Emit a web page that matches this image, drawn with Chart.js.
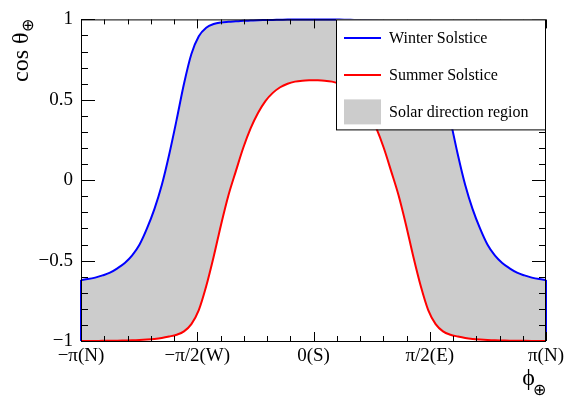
<!DOCTYPE html>
<html>
<head>
<meta charset="utf-8">
<script src="https://cdn.jsdelivr.net/npm/chart.js@4.4.1/dist/chart.umd.min.js"></script>
<style>
  html, body { margin: 0; padding: 0; background: #fff; }
  #wrap { width: 567px; height: 396px; }
</style>
</head>
<body>
<div id="wrap"><canvas id="solarChart" width="567" height="396"></canvas></div>
<script>
// azimuth phi (rad) and cos(theta)
const PHI = [-3.1416, -3.05, -2.95, -2.85, -2.75, -2.65, -2.55, -2.45, -2.35, -2.25, -2.15, -2.05,
  -1.95, -1.85, -1.75, -1.65, -1.55, -1.45, -1.35, -1.25, -1.15, -1.05, -0.95, -0.85, -0.75,
  -0.65, -0.55, -0.45, -0.35, -0.25, -0.15, -0.05, 0,
  0.05, 0.15, 0.25, 0.35, 0.45, 0.55, 0.65, 0.75, 0.85, 0.95, 1.05, 1.15, 1.25, 1.35, 1.45,
  1.55, 1.65, 1.75, 1.85, 1.95, 2.05, 2.15, 2.25, 2.35, 2.45, 2.55, 2.65, 2.75, 2.85, 2.95, 3.05, 3.1416];
const WINTER = [-0.620, -0.615, -0.606, -0.592, -0.575, -0.548, -0.515, -0.468, -0.400, -0.300, -0.180, -0.030,
  0.160, 0.375, 0.600, 0.785, 0.895, 0.948, 0.971, 0.981, 0.985, 0.988, 0.991, 0.993, 0.995,
  0.996, 0.997, 0.998, 0.999, 0.9995, 1.0, 1.0, 1.0,
  1.0, 1.0, 0.9995, 0.999, 0.998, 0.997, 0.996, 0.995, 0.993, 0.991, 0.988, 0.985, 0.981, 0.971, 0.948,
  0.895, 0.785, 0.600, 0.375, 0.160, -0.030, -0.180, -0.300, -0.400, -0.468, -0.515, -0.548, -0.575, -0.592, -0.606, -0.615, -0.620];
const SUMMER = [-1.0, -1.0, -0.9995, -0.999, -0.9985, -0.998, -0.997, -0.996, -0.994, -0.991, -0.987, -0.981,
  -0.972, -0.961, -0.940, -0.895, -0.808, -0.660, -0.478, -0.278, -0.095, 0.055, 0.200, 0.322, 0.418,
  0.492, 0.543, 0.578, 0.600, 0.613, 0.619, 0.6215, 0.622,
  0.6215, 0.619, 0.613, 0.600, 0.578, 0.543, 0.492, 0.418, 0.322, 0.200, 0.055, -0.095, -0.278, -0.478, -0.660,
  -0.808, -0.895, -0.940, -0.961, -0.972, -0.981, -0.987, -0.991, -0.994, -0.996, -0.997, -0.998, -0.9985, -0.999, -0.9995, -1.0, -1.0];

const X_TICKS = [-Math.PI, -Math.PI / 2, 0, Math.PI / 2, Math.PI];
const X_LABELS = ['\u2212\u03c0(N)', '\u2212\u03c0/2(W)', '0(S)', '\u03c0/2(E)', '\u03c0(N)'];
const Y_TICKS = [-1, -0.5, 0, 0.5, 1];
const Y_LABELS = ['\u22121', '\u22120.5', '0', '0.5', '1'];
const SERIES_NAMES = ['Winter Solstice', 'Summer Solstice', 'Solar direction region'];

const FONT = '"Liberation Serif", "Times New Roman", serif';
const BLUE = '#0000ff';
const RED = '#ff0000';
const GREY = '#cccccc';

const toPoints = (ys) => PHI.map((p, i) => ({ x: p, y: ys[i] }));
const last = PHI.length - 1;

// ROOT-style frame: ticks inside on all four sides, axis titles with subscripts, legend box
const frameTicks = {
  id: 'frameTicks',
  afterDraw(chart) {
    const { ctx, chartArea: a, scales: { x, y } } = chart;
    ctx.save();
    ctx.strokeStyle = '#000';
    ctx.lineWidth = 1;
    ctx.strokeRect(a.left + 0.5, a.top + 0.5, a.right - a.left - 1, a.bottom - a.top);

    ctx.beginPath();
    for (let k = 0; k <= 20; k++) {
      const v = -Math.PI + k * Math.PI / 10;
      const px = Math.round(x.getPixelForValue(v)) + 0.5;
      const len = k % 5 === 0 ? 9 : 5;
      ctx.moveTo(px, a.bottom); ctx.lineTo(px, a.bottom - len);
      ctx.moveTo(px, a.top); ctx.lineTo(px, a.top + len);
    }
    for (let k = 0; k <= 20; k++) {
      const v = -1 + k * 0.1;
      const py = Math.round(y.getPixelForValue(v)) + 0.5;
      const len = k % 5 === 0 ? 14 : 7;
      ctx.moveTo(a.left, py); ctx.lineTo(a.left + len, py);
      ctx.moveTo(a.right, py); ctx.lineTo(a.right - len, py);
    }
    ctx.stroke();

    // axis titles
    ctx.fillStyle = '#000';
    ctx.textBaseline = 'alphabetic';
    ctx.save();
    ctx.translate(28, a.top);
    ctx.rotate(-Math.PI / 2);
    ctx.font = '16px ' + FONT;
    ctx.textAlign = 'right';
    const subW = ctx.measureText('\u2295').width;
    ctx.fillText('\u2295', 0, 5);
    ctx.font = '24px ' + FONT;
    ctx.fillText('cos \u03b8', -subW, 0);
    ctx.restore();

    ctx.textAlign = 'right';
    ctx.font = '16px ' + FONT;
    ctx.fillText('\u2295', a.right, 395);
    const sw = ctx.measureText('\u2295').width;
    ctx.font = '24px ' + FONT;
    ctx.fillText('\u03d5', a.right - sw + 2, 385);

    // legend
    const lx = 336, ly = a.top, lw = a.right - lx, lh = 110;
    ctx.fillStyle = '#fff';
    ctx.fillRect(lx, ly, lw, lh);
    ctx.strokeRect(lx + 0.5, ly + 0.5, lw - 1, lh);
    const rows = [ly + 18.5, ly + 55.5, ly + 92.5];
    ctx.lineWidth = 2;
    ctx.strokeStyle = BLUE;
    ctx.beginPath(); ctx.moveTo(344, rows[0]); ctx.lineTo(381, rows[0]); ctx.stroke();
    ctx.strokeStyle = RED;
    ctx.beginPath(); ctx.moveTo(344, rows[1]); ctx.lineTo(381, rows[1]); ctx.stroke();
    ctx.fillStyle = GREY;
    ctx.fillRect(344, rows[2] - 12.5, 37, 25);
    ctx.fillStyle = '#000';
    ctx.font = '16px ' + FONT;
    ctx.textAlign = 'left';
    ctx.textBaseline = 'middle';
    SERIES_NAMES.forEach((name, i) => ctx.fillText(name, 389, rows[i] + 1));
    ctx.restore();
  }
};

new Chart(document.getElementById('solarChart'), {
  type: 'line',
  data: {
    datasets: [
      {
        label: SERIES_NAMES[0],
        data: toPoints(WINTER),
        borderColor: BLUE,
        borderWidth: 2,
        backgroundColor: GREY,
        fill: { target: 1 },
        pointRadius: 0,
        cubicInterpolationMode: 'monotone',
        clip: false,
      },
      {
        label: SERIES_NAMES[1],
        data: toPoints(SUMMER),
        borderColor: RED,
        borderWidth: 2,
        fill: false,
        pointRadius: 0,
        cubicInterpolationMode: 'monotone',
        clip: false,
      },
      {
        // left edge of the region
        data: [{ x: PHI[0], y: SUMMER[0] }, { x: PHI[0], y: WINTER[0] }],
        borderColor: BLUE,
        borderWidth: 2,
        pointRadius: 0,
        fill: false,
        clip: false,
      },
      {
        // right edge of the region
        data: [{ x: PHI[last], y: SUMMER[last] }, { x: PHI[last], y: WINTER[last] }],
        borderColor: BLUE,
        borderWidth: 2,
        pointRadius: 0,
        fill: false,
        clip: false,
      },
    ]
  },
  options: {
    responsive: false,
    animation: false,
    layout: { padding: { top: 13, right: 21, left: 0, bottom: 0 } },
    plugins: {
      legend: { display: false },
      tooltip: { enabled: false },
      filler: { drawTime: 'beforeDatasetsDraw' },
    },
    scales: {
      x: {
        type: 'linear',
        min: -Math.PI,
        max: Math.PI,
        grid: { display: false, drawTicks: false },
        border: { display: false },
        afterBuildTicks: (scale) => { scale.ticks = X_TICKS.map(v => ({ value: v })); },
        afterFit: (scale) => { scale.height = 55; scale.paddingLeft = 0; scale.paddingRight = 0; },
        ticks: {
          autoSkip: false,
          maxRotation: 0,
          padding: 4,
          color: '#000',
          font: { family: FONT, size: 19 },
          callback: (v, i) => X_LABELS[i],
        },
      },
      y: {
        min: -1,
        max: 1,
        grid: { display: false, drawTicks: false },
        border: { display: false },
        afterBuildTicks: (scale) => { scale.ticks = Y_TICKS.map(v => ({ value: v })); },
        afterFit: (scale) => { scale.width = 81; },
        ticks: {
          padding: 8,
          color: '#000',
          font: { family: FONT, size: 19 },
          callback: (v, i) => Y_LABELS[i],
        },
      },
    },
  },
  plugins: [frameTicks],
});
</script>
</body>
</html>
